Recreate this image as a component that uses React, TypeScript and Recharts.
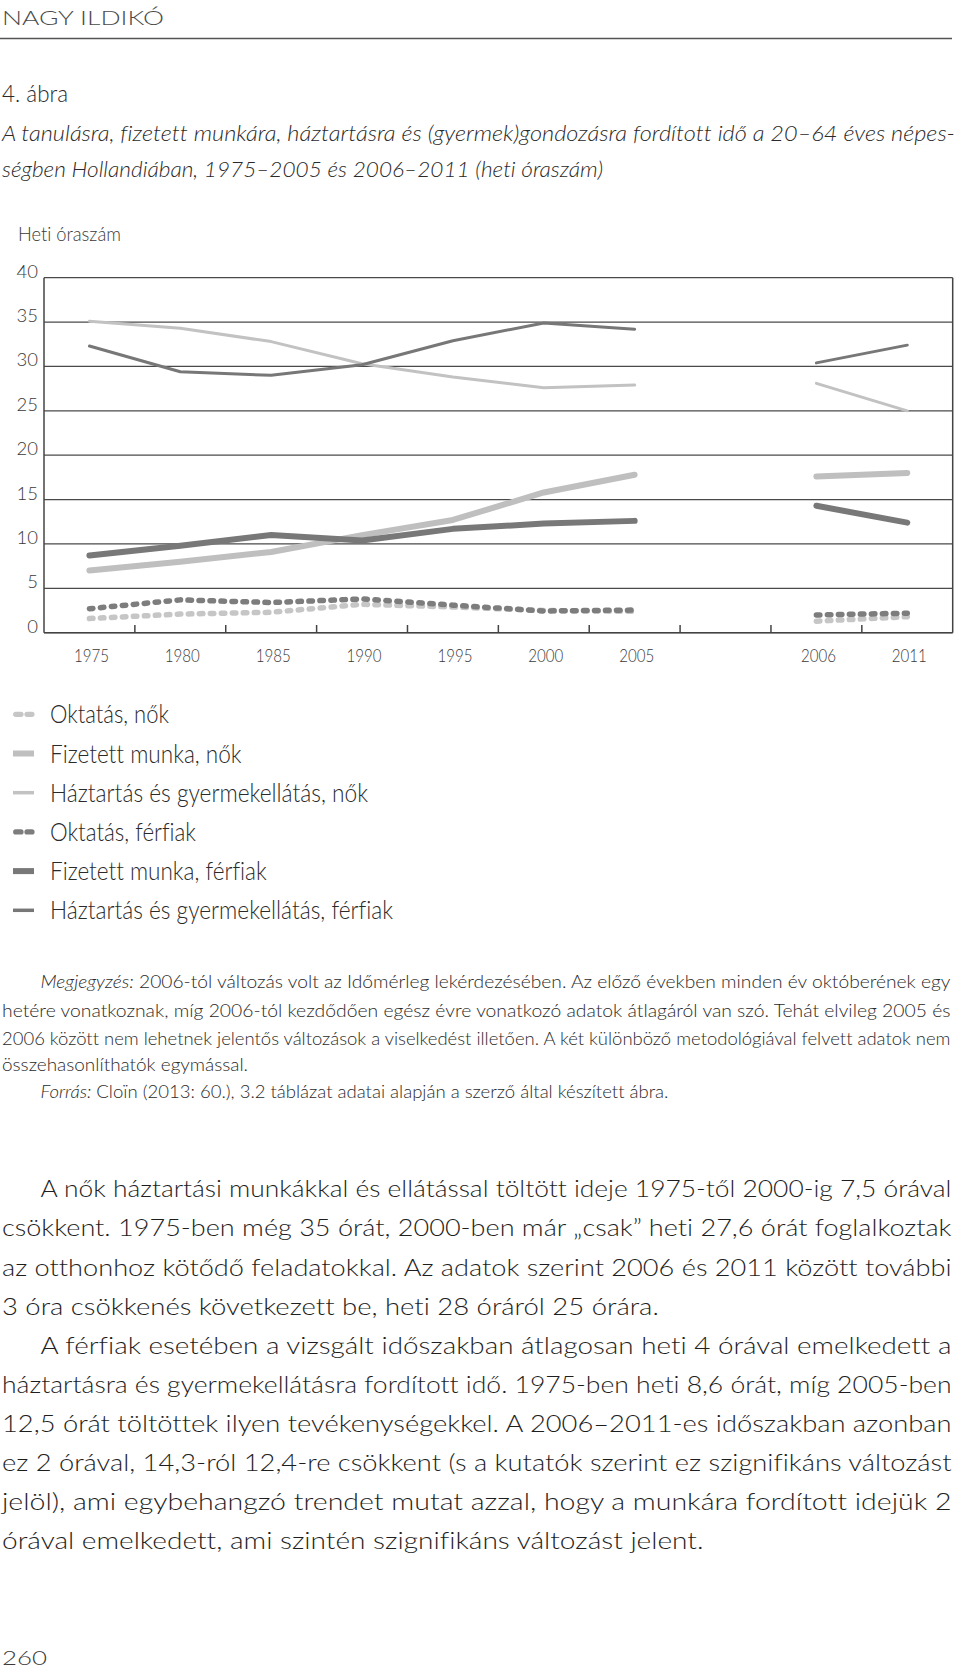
import React from 'react';
import { LineChart, Line, XAxis, YAxis, CartesianGrid, Legend, ReferenceLine } from 'recharts';

// ---- data ----
const years = ['1975', '1980', '1985', '1990', '1995', '2000', '2005', '', '2006', '2011'];
const oktatasNok = [1.6, 2.1, 2.3, 3.2, 2.9, 2.5, 2.4, null, 1.3, 1.8];
const fizetettNok = [7.0, 8.0, 9.1, 11.0, 12.7, 15.8, 17.8, null, 17.6, 18.0];
const haztartasNok = [35.1, 34.3, 32.8, 30.3, 28.8, 27.6, 27.9, null, 28.1, 25.0];
const oktatasFerfiak = [2.7, 3.7, 3.4, 3.8, 3.1, 2.45, 2.55, null, 2.0, 2.2];
const fizetettFerfiak = [8.7, 9.8, 11.0, 10.4, 11.7, 12.3, 12.6, null, 14.3, 12.4];
const haztartasFerfiak = [32.3, 29.4, 29.0, 30.2, 32.9, 34.9, 34.2, null, 30.4, 32.4];
const yTicks = [0, 5, 10, 15, 20, 25, 30, 35, 40];

const seriesNames = [
  'Oktatás, nők',
  'Fizetett munka, nők',
  'Háztartás és gyermekellátás, nők',
  'Oktatás, férfiak',
  'Fizetett munka, férfiak',
  'Háztartás és gyermekellátás, férfiak',
];

const rows = years.map((label, i) => ({
  x: i + 0.5,
  label,
  oktatasNok: oktatasNok[i],
  fizetettNok: fizetettNok[i],
  haztartasNok: haztartasNok[i],
  oktatasFerfiak: oktatasFerfiak[i],
  fizetettFerfiak: fizetettFerfiak[i],
  haztartasFerfiak: haztartasFerfiak[i],
}));

const xTicks = years.flatMap((_, i) => (i === 0 ? [0.5] : [i, i + 0.5]));

// ---- styles ----
const FONT = 'Lato, "Open Sans", sans-serif';
const NOLIG = { fontVariantLigatures: 'none' as const };
const series = [
  { key: 'oktatasNok', name: seriesNames[0], color: '#c6c6c6', width: 5.5, dash: '3.5 7.5' },
  { key: 'fizetettNok', name: seriesNames[1], color: '#bfbfbf', width: 6, dash: undefined },
  { key: 'haztartasNok', name: seriesNames[2], color: '#c2c2c2', width: 3, dash: undefined },
  { key: 'oktatasFerfiak', name: seriesNames[3], color: '#7d7d7d', width: 5.5, dash: '3.5 7.5' },
  { key: 'fizetettFerfiak', name: seriesNames[4], color: '#787878', width: 6, dash: undefined },
  { key: 'haztartasFerfiak', name: seriesNames[5], color: '#777777', width: 3, dash: undefined },
];
const legendTextLen = [119, 191.6, 318, 146, 216.7, 343];

// ---- texts ----
const titleLines = [
  'A tanulásra, fizetett munkára, háztartásra és (gyermek)gondozásra fordított idő a 20–64 éves népes-',
  'ségben Hollandiában, 1975–2005 és 2006–2011 (heti óraszám)',
];
const noteLines = [
  { x: 40.4, y: 988.4, w: 910, italic: 'Megjegyzés:', text: ' 2006-tól változás volt az Időmérleg lekérdezésében. Az előző években minden év októberének egy' },
  { x: 2, y: 1017.1, w: 948.5, italic: '', text: 'hetére vonatkoznak, míg 2006-tól kezdődően egész évre vonatkozó adatok átlagáról van szó. Tehát elvileg 2005 és' },
  { x: 2, y: 1044.8, w: 948.5, italic: '', text: '2006 között nem lehetnek jelentős változások a viselkedést illetően. A két különböző metodológiával felvett adatok nem' },
  { x: 2, y: 1071.4, w: 246, italic: '', text: 'összehasonlíthatók egymással.' },
  { x: 40.4, y: 1098, w: 628, italic: 'Forrás:', text: ' Cloïn (2013: 60.), 3.2 táblázat adatai alapján a szerző által készített ábra.' },
];
const bodyLines = [
  { x: 40.4, y: 1197, w: 911, text: 'A nők háztartási munkákkal és ellátással töltött ideje 1975-től 2000-ig 7,5 órával' },
  { x: 2, y: 1236.2, w: 949.5, text: 'csökkent. 1975-ben még 35 órát, 2000-ben már „csak” heti 27,6 órát foglalkoztak' },
  { x: 2, y: 1275.6, w: 949.5, text: 'az otthonhoz kötődő feladatokkal. Az adatok szerint 2006 és 2011 között további' },
  { x: 2, y: 1315, w: 656.8, text: '3 óra csökkenés következett be, heti 28 óráról 25 órára.' },
  { x: 40.4, y: 1354.3, w: 911, text: 'A férfiak esetében a vizsgált időszakban átlagosan heti 4 órával emelkedett a' },
  { x: 2, y: 1392.6, w: 949.5, text: 'háztartásra és gyermekellátásra fordított idő. 1975-ben heti 8,6 órát, míg 2005-ben' },
  { x: 2, y: 1432, w: 949.5, text: '12,5 órát töltöttek ilyen tevékenységekkel. A 2006–2011-es időszakban azonban' },
  { x: 2, y: 1471.4, w: 949.5, text: 'ez 2 órával, 14,3-ról 12,4-re csökkent (s a kutatók szerint ez szignifikáns változást' },
  { x: 2, y: 1509.7, w: 949.5, text: 'jelöl), ami egybehangzó trendet mutat azzal, hogy a munkára fordított idejük 2' },
  { x: 2, y: 1549.1, w: 701.5, text: 'órával emelkedett, ami szintén szignifikáns változást jelent.' },
];

const XTick = (props: any) => {
  const { x, y, payload } = props;
  const v = payload.value as number;
  if (Number.isInteger(v)) {
    return <line x1={x} x2={x} y1={y} y2={y - 7.7} stroke="#444" strokeWidth={1.5} />;
  }
  const label = years[Math.floor(v)];
  if (!label) return <g />;
  return (
    <text x={x + 2} y={y + 29} textAnchor="middle" fontFamily={FONT} fontWeight={300} fontSize={18.5}
      fill="#3a3a3a" textLength={35} lengthAdjust="spacingAndGlyphs">{label}</text>
  );
};

const YTick = (props: any) => {
  const { x, y, payload } = props;
  return (
    <text x={x} y={y} textAnchor="end" fontFamily={FONT} fontWeight={300} fontSize={18.5} fill="#3a3a3a">
      {payload.value}
    </text>
  );
};

const LegendContent = (props: any) => {
  const payload: any[] = props.payload || [];
  const list = series.map((s) => {
    const p = payload.find((q) => q.dataKey === s.key);
    return { ...s, label: p ? p.value : s.name };
  });
  return (
    <div style={{ width: 420, height: 260 }}>
      <svg width={420} height={260} style={{ display: 'block' }}>
        {list.map((s, i) => {
          const cy = 39.3 + i * 39.2;
          return (
            <g key={s.key}>
              {s.dash ? (
                <line x1={15.7} x2={32} y1={cy} y2={cy} stroke={s.color} strokeWidth={5.2}
                  strokeLinecap="round" strokeDasharray="5.3 6" />
              ) : (
                <line x1={13} x2={34} y1={cy} y2={cy} stroke={s.color} strokeWidth={s.width === 3 ? 3.5 : 6} />
              )}
              <text x={50} y={cy + 9} fontFamily={FONT} fontWeight={300} fontSize={24.5} fill="#2a2a2a"
                style={NOLIG} textLength={legendTextLen[i]} lengthAdjust="spacingAndGlyphs">{s.label}</text>
            </g>
          );
        })}
      </svg>
    </div>
  );
};

export default function App() {
  return (
    <div style={{ position: 'absolute', left: 0, top: 0, width: 960, height: 1668, background: '#fff', overflow: 'hidden' }}>
      <svg style={{ position: 'absolute', left: 0, top: 0 }} width={960} height={1668}>
        <text x={2} y={25} fontFamily={FONT} fontWeight={300} fontSize={20} fill="#4a4a4a"
          textLength={162} lengthAdjust="spacingAndGlyphs">NAGY ILDIKÓ</text>
        <line x1={0} x2={952} y1={38.5} y2={38.5} stroke="#555" strokeWidth={1.5} />
        <text x={2} y={101.5} fontFamily={FONT} fontWeight={300} fontSize={23.5} fill="#2a2a2a"
          textLength={66} lengthAdjust="spacingAndGlyphs">4. ábra</text>
        <text x={2} y={141.3} fontFamily={FONT} fontWeight={300} fontStyle="italic" fontSize={22.5} fill="#2a2a2a"
          style={NOLIG} textLength={953} lengthAdjust="spacingAndGlyphs">{titleLines[0]}</text>
        <text x={2} y={176.7} fontFamily={FONT} fontWeight={300} fontStyle="italic" fontSize={22.5} fill="#2a2a2a"
          style={NOLIG} textLength={601} lengthAdjust="spacingAndGlyphs">{titleLines[1]}</text>
        <text x={18} y={241} fontFamily={FONT} fontWeight={300} fontSize={19} fill="#3a3a3a"
          style={NOLIG} textLength={103} lengthAdjust="spacingAndGlyphs">Heti óraszám</text>
        {noteLines.map((l, i) => (
          <text key={i} x={l.x} y={l.y} fontFamily={FONT} fontWeight={300} fontSize={17.5} fill="#2a2a2a"
            style={NOLIG} textLength={l.w} lengthAdjust="spacingAndGlyphs">
            {l.italic ? <tspan fontStyle="italic">{l.italic}</tspan> : null}
            {l.text}
          </text>
        ))}
        {bodyLines.map((l, i) => (
          <text key={i} x={l.x} y={l.y} fontFamily={FONT} fontWeight={300} fontSize={23.5} fill="#1e1e1e"
            style={NOLIG} textLength={l.w} lengthAdjust="spacingAndGlyphs">{l.text}</text>
        ))}
        <text x={2} y={1665} fontFamily={FONT} fontWeight={300} fontSize={20} fill="#3a3a3a"
          textLength={45} lengthAdjust="spacingAndGlyphs">260</text>
      </svg>
      <div style={{ position: 'absolute', left: 0, top: 240 }}>
        <LineChart width={960} height={695} data={rows} margin={{ top: 37.7, right: 7.3, bottom: 0, left: 0 }}>
          <CartesianGrid vertical={false} stroke="#4a4a4a" strokeWidth={1.2} />
          <XAxis type="number" dataKey="x" domain={[0, 10]} ticks={xTicks} interval={0} allowDataOverflow
            tickLine={false} tickSize={0} tickMargin={0} height={42.3} tick={<XTick />}
            axisLine={{ stroke: '#444', strokeWidth: 1.5 }} />
          <YAxis type="number" domain={[0, 40]} ticks={yTicks} interval={0} width={44} tickLine={false}
            tickSize={0} tickMargin={6} tick={<YTick />} axisLine={{ stroke: '#444', strokeWidth: 1.5 }} />
          <ReferenceLine x={10} stroke="#444" strokeWidth={1.5} ifOverflow="visible" />
          {series.map((s) => (
            <Line key={s.key} type="linear" dataKey={s.key} name={s.name} stroke={s.color} strokeWidth={s.width}
              strokeDasharray={s.dash} strokeLinecap="round" strokeLinejoin="round" dot={false} activeDot={false}
              connectNulls={false} isAnimationActive={false} />
          ))}
          <Legend verticalAlign="bottom" align="left" layout="horizontal" height={260} content={<LegendContent />}
            wrapperStyle={{ left: 0, width: 420, height: 260 }} />
        </LineChart>
      </div>
    </div>
  );
}
